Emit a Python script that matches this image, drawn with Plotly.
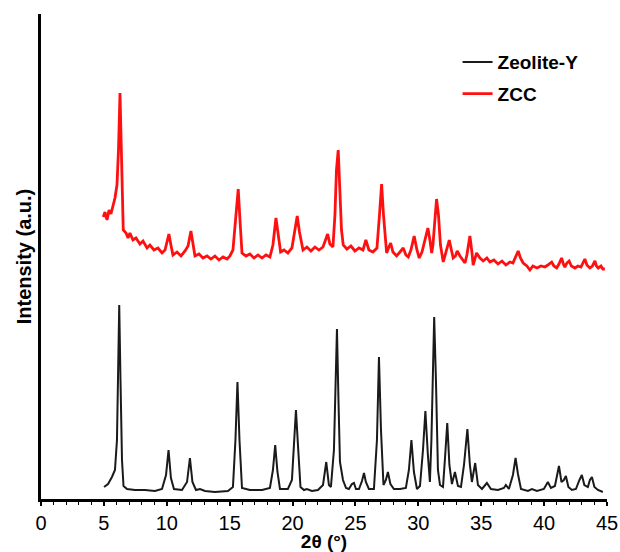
import plotly.graph_objects as go

# Zeolite-Y XRD pattern (2θ in degrees, intensity in a.u.)
zeo_2theta = [5.01, 5.33, 5.64, 5.88, 6.04, 6.16, 6.22, 6.32, 6.44, 6.56, 6.84, 7.47, 8.27, 9.06, 9.62,
              9.94, 10.14, 10.33, 10.57, 11.21, 11.61, 11.84, 12.04, 12.32, 12.64, 13.04, 13.83, 14.86,
              15.26, 15.46, 15.62, 15.78, 15.98, 16.61, 17.57, 18.2, 18.44, 18.62, 18.8, 19.0, 19.63,
              19.95, 20.11, 20.27, 20.43, 20.63, 20.91, 21.14, 21.54, 22.02, 22.42, 22.68, 22.89, 23.05,
              23.29, 23.41, 23.53, 23.65, 23.77, 23.85, 24.01, 24.25, 24.48, 24.72, 24.88, 25.04, 25.28,
              25.52, 25.68, 25.83, 26.07, 26.47, 26.71, 26.87, 27.03, 27.23, 27.42, 27.58, 27.78, 28.06,
              28.54, 29.01, 29.25, 29.45, 29.65, 29.89, 30.13, 30.37, 30.56, 30.76, 30.92, 31.04, 31.16,
              31.26, 31.40, 31.56, 31.72, 31.96, 32.11, 32.3, 32.47, 32.67, 32.91, 33.15, 33.39, 33.63,
              33.9, 34.1, 34.26, 34.52, 34.74, 35.06, 35.45, 35.77, 36.33, 36.8, 36.96, 37.2, 37.52,
              37.73, 37.92, 38.16, 38.71, 39.03, 39.43, 39.98, 40.3, 40.54, 40.86, 41.02, 41.18, 41.38,
              41.57, 41.73, 41.93, 42.21, 42.53, 42.81, 43.0, 43.2, 43.48, 43.64, 43.8, 44.0, 44.28, 44.67]
zeo_intensity = [12, 15, 22, 29, 59, 129, 194, 119, 39, 13, 10, 9, 9, 8, 10,
                 24, 49, 21, 10, 9, 17, 41, 17, 9, 10, 8, 7, 8,
                 12, 59, 117, 59, 11, 9, 9, 11, 29, 54, 27, 10, 10,
                 19, 59, 89, 54, 12, 9, 10, 8, 9, 14, 37, 14, 12,
                 49, 119, 170, 99, 37, 31, 19, 11, 10, 15, 16, 10, 10,
                 18, 26, 17, 10, 10, 59, 142, 69, 14, 19, 27, 15, 10,
                 10, 11, 29, 59, 27, 10, 13, 49, 88, 44, 17, 59, 139,
                 182, 119, 29, 14, 12, 39, 76, 34, 15, 27, 13, 12, 34,
                 70, 34, 17, 36, 14, 10, 16, 10, 9, 11, 14, 10, 24,
                 41, 25, 10, 8, 10, 8, 10, 17, 11, 13, 24, 33, 17,
                 19, 23, 12, 9, 10, 19, 24, 14, 12, 19, 22, 12, 9, 7]

# ZCC XRD pattern (2θ in degrees, intensity in a.u., offset upward)
zcc_2theta = [4.95, 5.09, 5.25, 5.41, 5.56, 5.72, 5.88, 6.04, 6.16, 6.28, 6.36, 6.44, 6.54, 6.76, 6.92,
              7.07, 7.31, 7.55, 7.87, 8.11, 8.43, 8.66, 8.98, 9.3, 9.62, 9.86, 10.01, 10.17, 10.33, 10.49,
              10.81, 11.13, 11.45, 11.69, 11.92, 12.08, 12.24, 12.56, 12.88, 13.2, 13.51, 13.83, 14.15,
              14.47, 14.79, 15.02, 15.26, 15.5, 15.68, 15.82, 15.98, 16.3, 16.61, 16.93, 17.25, 17.57,
              17.89, 18.2, 18.44, 18.68, 18.84, 19.05, 19.32, 19.63, 19.95, 20.19, 20.37, 20.55, 20.83,
              21.14, 21.46, 21.78, 22.1, 22.42, 22.62, 22.79, 22.97, 23.21, 23.37, 23.49, 23.63, 23.77,
              23.89, 24.03, 24.32, 24.64, 24.96, 25.28, 25.6, 25.83, 26.07, 26.39, 26.71, 26.91, 27.08,
              27.23, 27.48, 27.66, 27.8, 27.98, 28.27, 28.54, 28.8, 29.01, 29.2, 29.41, 29.67, 29.89,
              30.07, 30.29, 30.52, 30.76, 30.92, 31.06, 31.16, 31.32, 31.45, 31.6, 31.76, 31.98, 32.19,
              32.46, 32.63, 32.77, 32.95, 33.09, 33.31, 33.55, 33.71, 33.86, 34.1, 34.26, 34.36, 34.63,
              34.9, 35.16, 35.45, 35.69, 36.01, 36.33, 36.65, 36.96, 37.28, 37.52, 37.76, 37.94, 38.12,
              38.34, 38.63, 38.87, 39.11, 39.43, 39.75, 40.06, 40.3, 40.6, 40.78, 41.0, 41.18, 41.39,
              41.53, 41.65, 41.81, 41.99, 42.17, 42.45, 42.69, 42.93, 43.24, 43.4, 43.64, 43.84, 44.04,
              44.16, 44.3, 44.52, 44.67, 44.83]
zcc_intensity = [282, 287, 279, 289, 285, 294, 301, 314, 349, 406, 369, 309, 269, 266, 261,
                 266, 259, 261, 255, 258, 251, 254, 249, 251, 246, 249, 256, 265, 254, 244,
                 247, 243, 248, 253, 268, 254, 243, 245, 241, 243, 240, 243, 239,
                 242, 240, 243, 249, 284, 310, 279, 246, 243, 245, 241, 244, 241,
                 244, 242, 254, 281, 264, 247, 249, 246, 251, 267, 283, 267, 249,
                 252, 248, 252, 249, 252, 259, 265, 255, 252, 284, 329, 349, 309,
                 269, 254, 250, 253, 248, 251, 249, 259, 249, 247, 251, 284, 315,
                 284, 246, 252, 256, 247, 243, 247, 251, 244, 242, 249, 263, 249,
                 241, 247, 259, 271, 259, 246, 254, 284, 300, 284, 254, 237, 247,
                 259, 249, 241, 243, 248, 243, 239, 236, 244, 263, 247, 234, 246,
                 241, 238, 241, 237, 239, 235, 238, 234, 237, 236, 244, 248, 241,
                 236, 233, 229, 233, 231, 233, 232, 234, 237, 233, 231, 235, 241,
                 235, 232, 236, 238, 233, 231, 233, 232, 240, 234, 231, 233, 238,
                 233, 231, 233, 230, 230]

series_names = ["Zeolite-Y", "ZCC"]
x_ticks = [0, 5, 10, 15, 20, 25, 30, 35, 40, 45]

FONT = "Liberation Sans, Arial, sans-serif"

fig = go.Figure()
fig.add_trace(go.Scatter(x=zeo_2theta, y=zeo_intensity, mode="lines", name=series_names[0],
                         line=dict(color="#1a1a1a", width=2), legendgroup="a"))
fig.add_trace(go.Scatter(x=zcc_2theta, y=zcc_intensity, mode="lines", name=series_names[1],
                         line=dict(color="#ff1010", width=2.8), legendgroup="b"))

fig.update_layout(
    width=620, height=552,
    margin=dict(l=41, r=13, t=14, b=53, autoexpand=False),
    paper_bgcolor="white", plot_bgcolor="white",
    font=dict(family=FONT, color="black"),
    showlegend=True,
    legend=dict(x=0.736, y=0.94, xanchor="left", yanchor="top",
                font=dict(family=FONT, size=19, color="black", weight="bold"),
                bgcolor="rgba(0,0,0,0)", tracegroupgap=4, itemwidth=30),
    xaxis=dict(range=[0, 45], tickvals=x_ticks, ticktext=[str(v) for v in x_ticks],
               automargin=False,
               showline=True, linewidth=3, linecolor="black", showgrid=False, zeroline=False,
               ticks="outside", ticklen=4, tickwidth=1.5, tickcolor="black",
               minor=dict(dtick=1, ticks="outside", ticklen=3, tickwidth=1, tickcolor="black"),
               tickfont=dict(family=FONT, size=20, color="black"),
               title=dict(text="<b>2θ (°)</b>", font=dict(family=FONT, size=19, color="black"), standoff=0)),
    yaxis=dict(range=[0, 485], automargin=False, showline=True, linewidth=3, linecolor="black",
               showgrid=False, zeroline=False, ticks="", showticklabels=False,
               title=dict(text="<b>Intensity (a.u.)</b>", font=dict(family=FONT, size=20, color="black"), standoff=2)),
)

fig.write_html("out.html")
